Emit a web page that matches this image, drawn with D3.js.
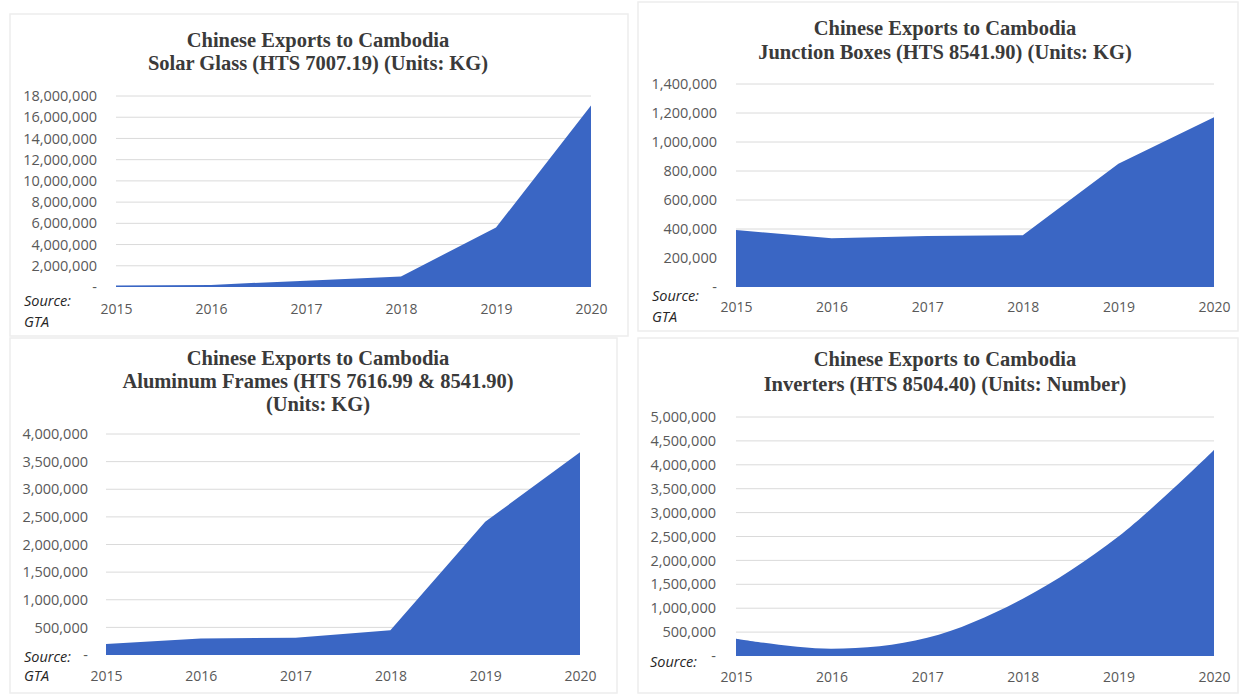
<!DOCTYPE html>
<html>
<head>
<meta charset="utf-8">
<script src="https://cdn.jsdelivr.net/npm/d3@7"></script>
<style>
  html, body { margin: 0; padding: 0; background: #ffffff; }
  svg { display: block; }
</style>
</head>
<body>
<svg id="chart" width="1240" height="694"></svg>
<script>
// ---------- DATA ----------
const years = ["2015", "2016", "2017", "2018", "2019", "2020"];

const solarGlass     = [150000, 200000, 600000, 1000000, 5600000, 17100000];
const junctionBoxes  = [393000, 336000, 352000, 357000, 850000, 1170000];
const aluminumFrames = [200000, 300000, 310000, 450000, 2410000, 3670000];
const inverters      = [360000, 150000, 380000, 1200000, 2500000, 4310000];

const solarGlassTicks     = [0, 2000000, 4000000, 6000000, 8000000, 10000000, 12000000, 14000000, 16000000, 18000000];
const junctionBoxesTicks  = [0, 200000, 400000, 600000, 800000, 1000000, 1200000, 1400000];
const aluminumFramesTicks = [0, 500000, 1000000, 1500000, 2000000, 2500000, 3000000, 3500000, 4000000];
const invertersTicks      = [0, 500000, 1000000, 1500000, 2000000, 2500000, 3000000, 3500000, 4000000, 4500000, 5000000];

const titleLine1 = "Chinese Exports to Cambodia";
const solarGlassTitle     = ["Solar Glass (HTS 7007.19) (Units: KG)"];
const junctionBoxesTitle  = ["Junction Boxes (HTS 8541.90) (Units: KG)"];
const aluminumFramesTitle = ["Aluminum Frames (HTS 7616.99 & 8541.90)", "(Units: KG)"];
const invertersTitle      = ["Inverters (HTS 8504.40) (Units: Number)"];

// ---------- LAYOUT ----------
const panels = [
  { values: solarGlass, ticks: solarGlassTicks, title: solarGlassTitle, smooth: false,
    frame: [10, 14, 618, 322], x0: 116, x1: 591, yTop: 96, yBot: 287, labelX: 97,
    titleX: 318, titleY: [40, 63], xLabelY: 309, source: [24, 301, 322] },
  { values: junctionBoxes, ticks: junctionBoxesTicks, title: junctionBoxesTitle, smooth: false,
    frame: [638, 2, 600, 329], x0: 736, x1: 1214, yTop: 84, yBot: 287, labelX: 717,
    titleX: 945, titleY: [28, 52], xLabelY: 307, source: [652, 296, 317] },
  { values: aluminumFrames, ticks: aluminumFramesTicks, title: aluminumFramesTitle, smooth: false,
    frame: [10, 338, 607, 355], x0: 106, x1: 580, yTop: 434, yBot: 655, labelX: 88,
    titleX: 318, titleY: [358, 381, 404], xLabelY: 676, source: [24, 657, 676] },
  { values: inverters, ticks: invertersTicks, title: invertersTitle, smooth: true,
    frame: [638, 338, 600, 355], x0: 736, x1: 1214, yTop: 417, yBot: 656, labelX: 716,
    titleX: 945, titleY: [359, 384], xLabelY: 677, source: [650, 662, null] }
];

const svg = d3.select("#chart");
const fmt = d3.format(",");
const fill = "#3a66c4";
const labelFont = "'Open Sans', sans-serif";

panels.forEach(p => {
  const g = svg.append("g");

  // faint panel frame
  g.append("rect")
    .attr("x", p.frame[0]).attr("y", p.frame[1])
    .attr("width", p.frame[2]).attr("height", p.frame[3])
    .attr("fill", "none").attr("stroke", "#ededed").attr("stroke-width", 1.5);

  const x = d3.scalePoint().domain(years).range([p.x0, p.x1]);
  const yMax = d3.max(p.ticks);
  const y = d3.scaleLinear().domain([0, yMax]).range([p.yBot, p.yTop]);

  // gridlines
  g.append("g")
    .selectAll("line")
    .data(p.ticks.filter(t => t > 0))
    .join("line")
    .attr("x1", p.x0).attr("x2", p.x1)
    .attr("y1", d => y(d)).attr("y2", d => y(d))
    .attr("stroke", "#dadada").attr("stroke-width", 1);

  // area
  const area = d3.area()
    .x((d, i) => x(years[i]))
    .y0(y(0))
    .y1(d => y(d))
    .curve(p.smooth ? d3.curveCatmullRom.alpha(0.5) : d3.curveLinear);
  g.append("path").datum(p.values).attr("d", area).attr("fill", fill);

  // y axis
  const yAxis = d3.axisLeft(y).tickValues(p.ticks)
    .tickFormat(d => d === 0 ? "-" : fmt(d)).tickSize(0).tickPadding(0);
  const ya = g.append("g").attr("transform", `translate(${p.labelX},0)`).call(yAxis);
  ya.select(".domain").remove();
  ya.selectAll("text")
    .attr("font-family", labelFont).attr("font-size", "14.5px")
    .attr("fill", "#595959");

  // x axis
  const xAxis = d3.axisBottom(x).tickSize(0).tickPadding(0);
  const xa = g.append("g").attr("transform", `translate(0,${p.xLabelY})`).call(xAxis);
  xa.select(".domain").remove();
  xa.selectAll("text")
    .attr("dy", "0.35em")
    .attr("font-family", labelFont).attr("font-size", "14px")
    .attr("fill", "#595959");

  // title
  const lines = [titleLine1].concat(p.title);
  g.append("g").selectAll("text").data(lines).join("text")
    .attr("x", p.titleX).attr("y", (d, i) => p.titleY[i])
    .attr("dy", "0.35em")
    .attr("text-anchor", "middle")
    .attr("font-family", "'Liberation Serif', 'Times New Roman', serif")
    .attr("font-weight", "bold").attr("font-size", "20.5px")
    .attr("fill", "#3a3a3a")
    .text(d => d);

  // source
  g.append("text")
    .attr("x", p.source[0]).attr("y", p.source[1]).attr("dy", "0.35em")
    .attr("font-family", labelFont).attr("font-style", "italic")
    .attr("font-size", "14.5px").attr("fill", "#262626")
    .text("Source:");
  if (p.source[2] !== null) {
    g.append("text")
      .attr("x", p.source[0]).attr("y", p.source[2]).attr("dy", "0.35em")
      .attr("font-family", labelFont).attr("font-style", "italic")
      .attr("font-size", "14.5px").attr("fill", "#262626")
      .text("GTA");
  }
});
</script>
</body>
</html>
